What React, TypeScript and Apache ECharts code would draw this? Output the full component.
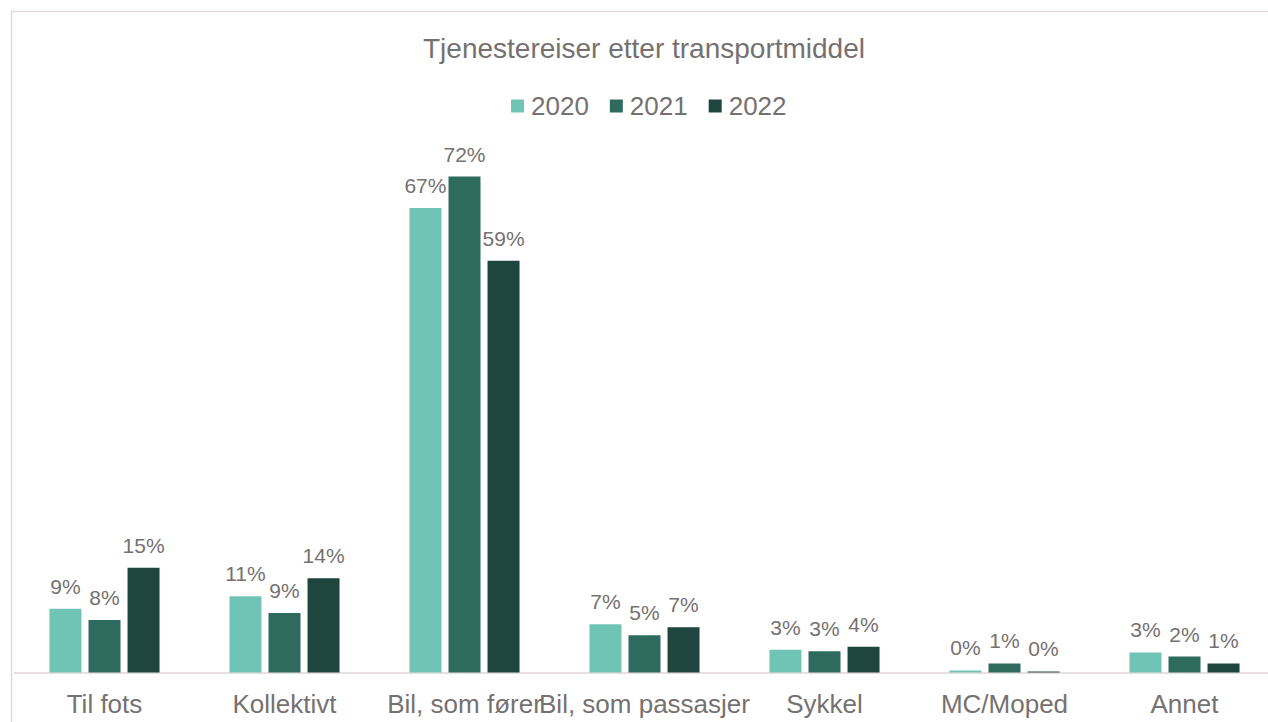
import React, { useEffect, useRef } from "react";
import * as echarts from "echarts";

const categories = ["Til fots", "Kollektivt", "Bil, som fører", "Bil, som passasjer", "Sykkel", "MC/Moped", "Annet"];
const years = ["2020", "2021", "2022"];
const values2020 = [0.092, 0.110, 0.670, 0.0695, 0.033, 0.003, 0.029];
const values2021 = [0.0757, 0.0858, 0.7155, 0.0537, 0.0307, 0.013, 0.023];
const values2022 = [0.151, 0.136, 0.594, 0.0653, 0.037, 0.0015, 0.013];
const colors = ["#70c4b4", "#2d6b5f", "#1e463f"];

const TEXT = "#767171";
const FONT = "'Liberation Sans', Arial, sans-serif";

export default function App() {
  const ref = useRef<HTMLDivElement>(null);
  useEffect(() => {
    if (!ref.current) return;
    const chart = echarts.init(ref.current, undefined, { renderer: "svg" });
    const seriesData = [values2020, values2021, values2022];
    chart.setOption({
      animation: false,
      backgroundColor: "#ffffff",
      textStyle: { fontFamily: FONT },
      title: {
        text: "Tjenestereiser etter transportmiddel",
        left: 423,
        top: 34,
        padding: 0,
        textStyle: { color: TEXT, fontSize: 28, fontWeight: "normal", fontFamily: FONT },
      },
      legend: {
        data: years,
        left: 511,
        top: 93,
        padding: 0,
        itemWidth: 13,
        itemHeight: 13,
        itemGap: 21,
        icon: "rect",
        textStyle: { color: TEXT, fontSize: 26, fontFamily: FONT, padding: [0, 0, 0, 2] },
      },
      graphic: [
        {
          type: "rect",
          shape: { x: 11.5, y: 11.5, width: 2000, height: 2000 },
          style: { fill: "none", stroke: "#e4d8db", lineWidth: 1.5 },
          silent: true,
        },
      ],
      grid: { left: 14.5, width: 1260, top: 118, bottom: 49.5 },
      xAxis: {
        type: "category",
        data: categories,
        axisLine: { lineStyle: { color: "#e0d5d8", width: 1.5 } },
        axisTick: { show: false },
        axisLabel: { interval: 0, color: TEXT, fontSize: 26, fontFamily: FONT, margin: 18 },
      },
      yAxis: { type: "value", min: 0, max: 0.8, show: false, splitLine: { show: false } },
      series: years.map((y, i) => ({
        name: y,
        type: "bar",
        data: seriesData[i],
        barWidth: 32,
        barGap: "22%",
        itemStyle: { color: colors[i] },
        label: {
          show: true,
          position: "top",
          distance: 12,
          color: TEXT,
          fontSize: 21,
          fontFamily: FONT,
          formatter: (p: any) => Math.round(p.value * 100) + "%",
        },
      })),
    });
    return () => chart.dispose();
  }, []);
  return <div ref={ref} style={{ position: "fixed", left: 0, top: 0, width: 1290, height: 722 }} />;
}
